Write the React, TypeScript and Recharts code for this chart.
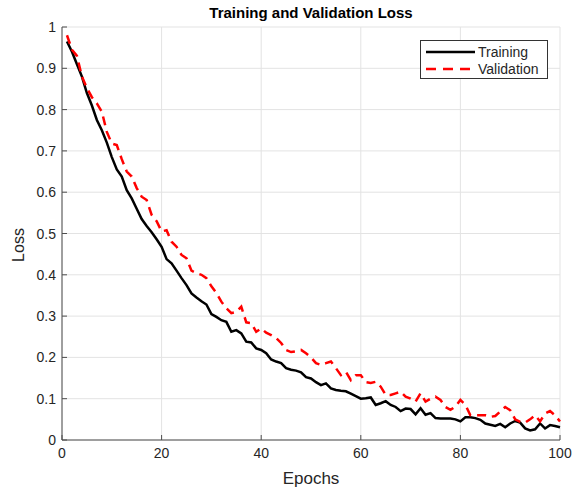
import React from 'react';
import { LineChart, Line, XAxis, YAxis, CartesianGrid } from 'recharts';

// Loss per epoch, epochs 1..100
const epochs = Array.from({ length: 100 }, (_, i) => i + 1);

const trainingLoss = [
  0.965, 0.94, 0.91, 0.88, 0.84, 0.81, 0.775, 0.75, 0.72, 0.685,
  0.655, 0.638, 0.605, 0.585, 0.56, 0.535, 0.518, 0.503, 0.486, 0.468,
  0.438, 0.428, 0.41, 0.392, 0.375, 0.355, 0.345, 0.336, 0.328, 0.305,
  0.298, 0.29, 0.286, 0.262, 0.266, 0.258, 0.238, 0.236, 0.222, 0.218,
  0.21, 0.195, 0.19, 0.186, 0.174, 0.17, 0.168, 0.164, 0.152, 0.149,
  0.14, 0.133, 0.137, 0.125, 0.121, 0.119, 0.118, 0.112, 0.106, 0.1,
  0.101, 0.103, 0.085, 0.089, 0.094, 0.085, 0.08, 0.07, 0.076, 0.075,
  0.062, 0.077, 0.061, 0.065, 0.053, 0.052, 0.052, 0.052, 0.05, 0.045,
  0.055, 0.055, 0.053, 0.049, 0.04, 0.037, 0.034, 0.039, 0.031, 0.04,
  0.046, 0.042, 0.028, 0.023, 0.026, 0.04, 0.028, 0.036, 0.034, 0.031,
];

const validationLoss = [
  0.98, 0.945, 0.93, 0.88, 0.852, 0.83, 0.815, 0.795, 0.746, 0.718,
  0.714, 0.68, 0.65, 0.638, 0.61, 0.589, 0.581, 0.545, 0.53, 0.505,
  0.508, 0.48, 0.468, 0.448, 0.44, 0.41, 0.404, 0.4, 0.392, 0.372,
  0.356, 0.335, 0.319, 0.307, 0.31, 0.323, 0.285, 0.283, 0.262, 0.27,
  0.26, 0.254, 0.247, 0.235, 0.218, 0.213, 0.215, 0.218, 0.21, 0.2,
  0.186, 0.182, 0.186, 0.19, 0.174, 0.157, 0.165, 0.145, 0.157, 0.157,
  0.14, 0.138, 0.141, 0.129, 0.109, 0.109, 0.113, 0.117, 0.105, 0.1,
  0.093, 0.113, 0.093, 0.1, 0.105, 0.097, 0.08, 0.073, 0.081, 0.097,
  0.085, 0.06, 0.06, 0.06, 0.06, 0.056, 0.058, 0.069, 0.08, 0.072,
  0.05, 0.044, 0.042, 0.05, 0.06, 0.045, 0.064, 0.07, 0.06, 0.045,
];

const xTicks = [0, 20, 40, 60, 80, 100];
const yTicks = [0, 0.1, 0.2, 0.3, 0.4, 0.5, 0.6, 0.7, 0.8, 0.9, 1];

const data = epochs.map((epoch, i) => ({
  epoch,
  training: trainingLoss[i],
  validation: validationLoss[i],
}));

const FONT = '"Liberation Sans", Arial, Helvetica, sans-serif';
const AXIS = '#4d4d4d';
const TEXT = '#262626';

const XTick = (props: any) => {
  const { x, y, payload } = props;
  const axisY = y - 7;
  return (
    <g>
      <line x1={x} x2={x} y1={axisY} y2={axisY - 5} stroke={AXIS} />
      <text x={x} y={y} dy="0.75em" textAnchor="middle" fontSize={14} fill={TEXT} fontFamily={FONT}>
        {payload.value}
      </text>
    </g>
  );
};

const YTick = (props: any) => {
  const { x, y, payload } = props;
  const axisX = x + 6;
  return (
    <g>
      <line x1={axisX} x2={axisX + 5} y1={y} y2={y} stroke={AXIS} />
      <text x={x} y={y} dy="0.36em" textAnchor="end" fontSize={14} fill={TEXT} fontFamily={FONT}>
        {payload.value}
      </text>
    </g>
  );
};

// rotated y-axis title, sitting a little below the middle of the axis
const LossLabel = () => (
  <text
    x={18}
    y={245}
    transform="rotate(-90 18 245)"
    textAnchor="middle"
    dominantBaseline="central"
    fontSize={16}
    fill={TEXT}
    fontFamily={FONT}
  >
    Loss
  </text>
);

export default function App() {
  return (
    <div style={{ position: 'absolute', left: 0, top: 0, width: 574, height: 489, background: '#fff', fontFamily: FONT }}>
      <div
        style={{
          position: 'absolute', left: 62, width: 498, top: 4, textAlign: 'center',
          fontWeight: 'bold', fontSize: 15, color: '#000',
        }}
      >
        Training and Validation Loss
      </div>

      <LineChart width={574} height={489} data={data} margin={{ top: 27, right: 14, left: 0, bottom: 0 }}>
        <CartesianGrid stroke="#e3e3e3" strokeWidth={1} horizontalValues={yTicks} verticalValues={xTicks} />
        <XAxis
          dataKey="epoch"
          type="number"
          domain={[0, 100]}
          ticks={xTicks}
          interval={0}
          height={49}
          tickSize={0}
          tickMargin={7}
          tick={<XTick />}
          stroke={AXIS}
          label={{ value: 'Epochs', position: 'insideBottom', offset: 5, fontSize: 17, fill: TEXT, fontFamily: FONT }}
        />
        <YAxis
          type="number"
          domain={[0, 1]}
          ticks={yTicks}
          interval={0}
          width={62}
          tickSize={0}
          tickMargin={6}
          tick={<YTick />}
          stroke={AXIS}
          label={{ value: 'Loss', content: <LossLabel /> }}
        />
        <Line
          type="linear"
          dataKey="training"
          stroke="#000"
          strokeWidth={2.5}
          dot={false}
          isAnimationActive={false}
        />
        <Line
          type="linear"
          dataKey="validation"
          stroke="#ff0000"
          strokeWidth={2.5}
          strokeDasharray="9 6"
          dot={false}
          isAnimationActive={false}
        />
      </LineChart>

      <div
        style={{
          position: 'absolute', left: 420, top: 40, width: 126, height: 37,
          border: '1px solid #333', background: '#fff', fontSize: 14, color: TEXT,
        }}
      >
        <div style={{ display: 'flex', alignItems: 'center', height: 17, marginTop: 2 }}>
          <svg width={57} height={10}>
            <line x1={5} x2={54} y1={5} y2={5} stroke="#000" strokeWidth={2.5} />
          </svg>
          <span>Training</span>
        </div>
        <div style={{ display: 'flex', alignItems: 'center', height: 17 }}>
          <svg width={57} height={10}>
            <line x1={5} x2={54} y1={5} y2={5} stroke="#ff0000" strokeWidth={2.5} strokeDasharray="10 7" />
          </svg>
          <span>Validation</span>
        </div>
      </div>
    </div>
  );
}
